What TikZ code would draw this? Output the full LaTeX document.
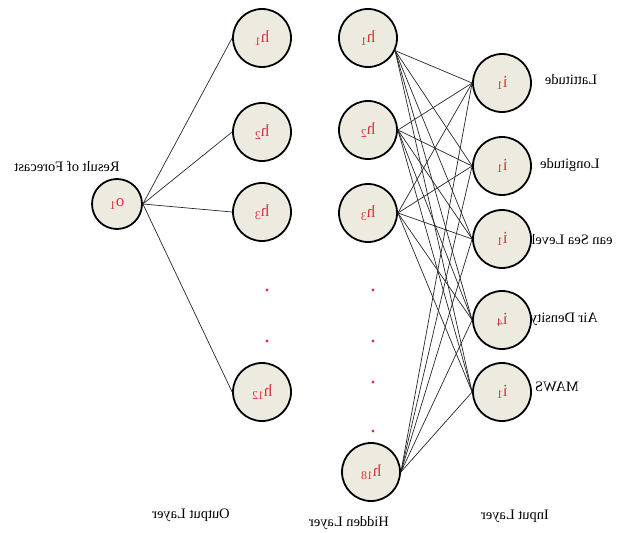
\documentclass[tikz,border=0pt]{standalone}
\usepackage{fontspec}
\setmainfont{Liberation Serif}
\definecolor{nred}{rgb}{0.86, 0.2, 0.25}
\definecolor{nfill}{rgb}{0.93, 0.92, 0.88}
\tikzset{neuron/.style = {circle, draw, line width=1.8pt, fill=nfill,
                          minimum size=58bp, inner sep=0pt, text=nred,
                          font=\fontsize{17}{17}\selectfont},
         lbl/.style = {font=\fontsize{14.5}{17}\selectfont, inner sep=0pt},
         edge/.style = {line width=0.7pt, black!85}}
\newcommand\mirrored[1]{\scalebox{-1}[1]{#1}}

\begin{document}
\begin{tikzpicture}[x=1bp, y=-1bp]
    \useasboundingbox (0, 0) rectangle (618, 533);

    % text first, so the circles cover it where they overlap
    \node [lbl] (res) at (67, 166) {\mirrored{Result of Forecast}};
    \node [lbl] (lat) at (571, 80) {\mirrored{Lattitude}};
    \node [lbl] (lon) at (570, 165) {\mirrored{Longitude}};
    \node [lbl] (msl) at (572, 240) {\mirrored{ean Sea Level}};
    \node [lbl] (air) at (564, 319) {\mirrored{Air Density}};
    \node [lbl] (maws) at (557, 387) {\mirrored{MAWS}};
    \node [lbl] (outl) at (191, 515) {\mirrored{Output Layer}};
    \node [lbl] (hidl) at (349, 523) {\mirrored{Hidden Layer}};
    \node [lbl] (inl) at (515, 516) {\mirrored{Input Layer}};

    \node [neuron, minimum size=50bp] (o1) at (117, 204) {\mirrored{o\textsubscript{1}}};
    \foreach \n/\y in {1/38, 2/132, 3/212, 12/392} {
      \node [neuron] (oh\n) at (262, \y) {\mirrored{h\textsubscript{\n}}};
    }
    \foreach \n/\x/\y in {1/368/38, 2/368/130, 3/368/213, 18/371/472} {
      \node [neuron] (hh\n) at (\x, \y) {\mirrored{h\textsubscript{\n}}};
    }
    \foreach \n/\s/\y in {1/1/83, 2/1/166, 3/1/239, 4/4/320, 5/1/392} {
      \node [neuron] (i\n) at (502, \y) {\mirrored{i\textsubscript{\s}}};
    }

    % dots for the skipped units
    \foreach \y in {290, 341} {
      \fill [nred] (267, \y) circle (1.6bp);
    }
    \foreach \y in {290, 341, 382, 431} {
      \fill [nred] (373, \y) circle (1.6bp);
    }

    \foreach \n in {1, 2, 3, 12} {
      \draw [edge] (o1.east) -- (oh\n.west);
    }
    \foreach \h/\a in {1/-25, 2/0, 3/0, 18/0} {
      \foreach \i in {1, ..., 5} {
        \draw [edge] (hh\h.\a) -- (i\i.west);
      }
    }
\end{tikzpicture}
\end{document}
